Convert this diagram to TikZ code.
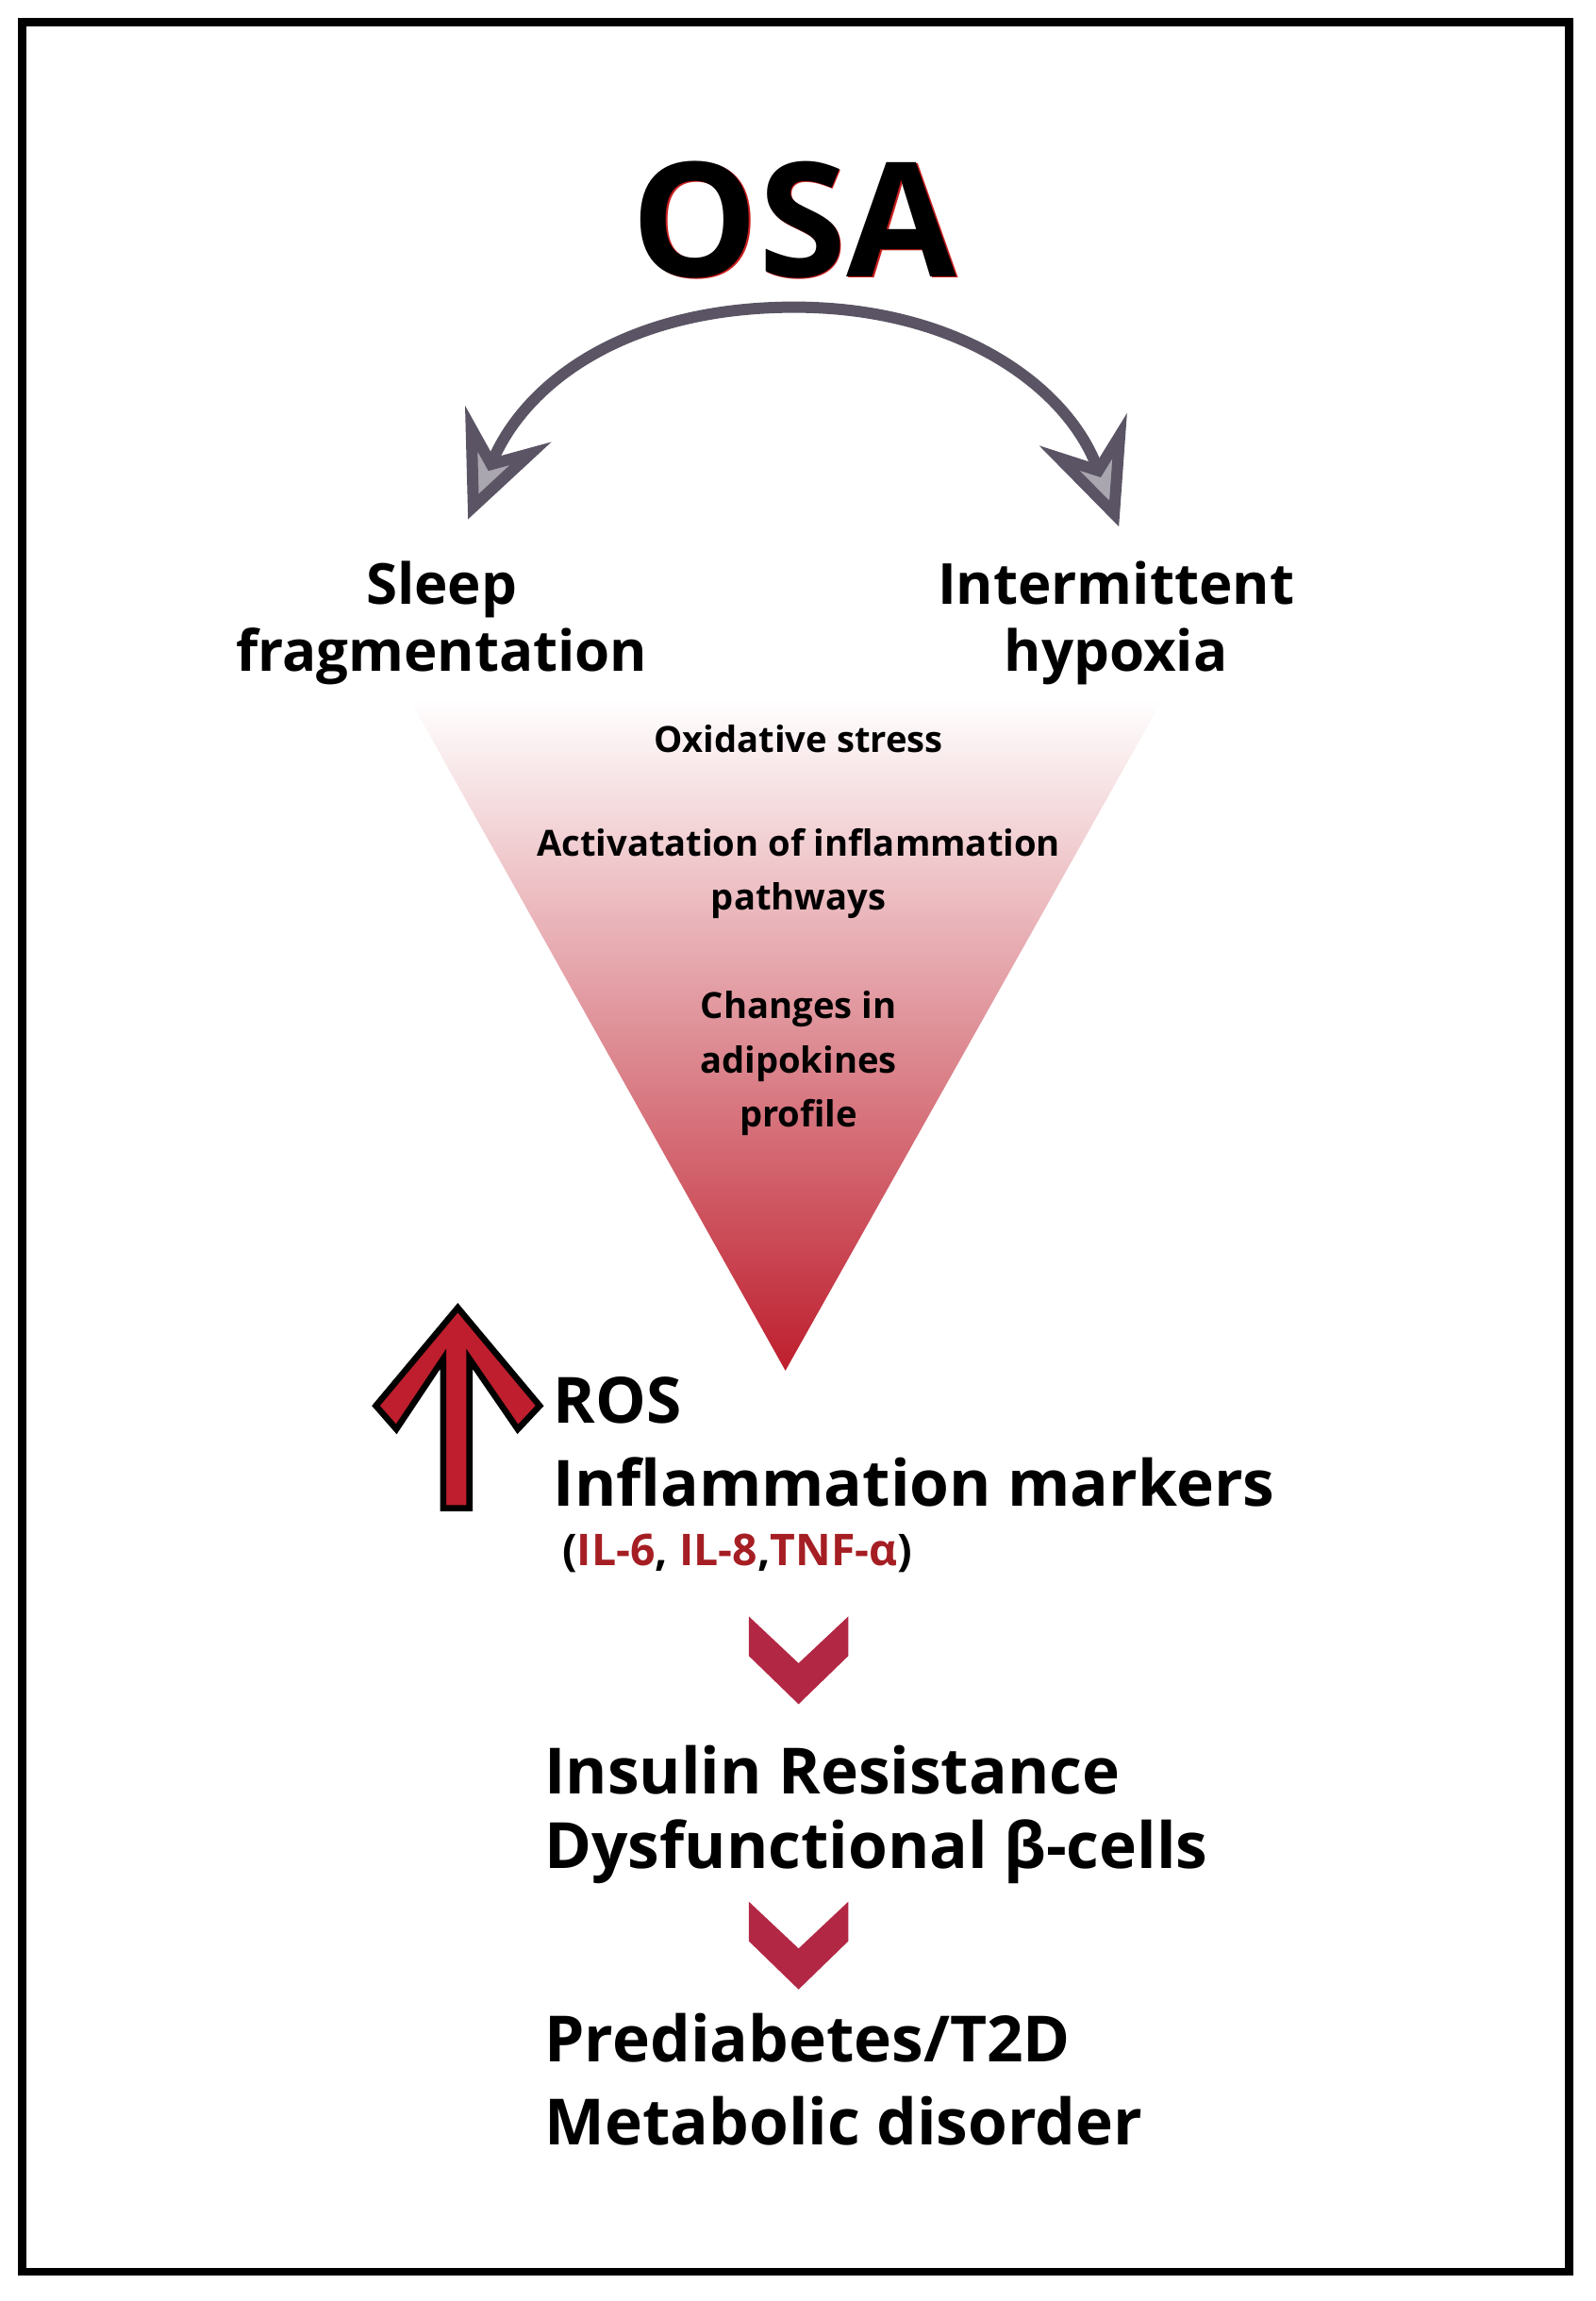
\documentclass[tikz,border=0pt]{standalone}
\usepackage{fontspec}
\setmainfont{Open Sans}
\usetikzlibrary{arrows.meta}
\definecolor{osared}{RGB}{200,30,30}
\definecolor{arcgray}{RGB}{90,84,100}
\definecolor{tipgray}{RGB}{170,166,176}
\definecolor{chevred}{RGB}{178,40,68}
\definecolor{rosred}{RGB}{190,30,45}
\definecolor{ilred}{RGB}{165,30,35}
\tikzset{
  big/.style={font=\fontsize{11}{13}\selectfont\bfseries, align=center},
  small/.style={font=\fontsize{7}{9}\selectfont\bfseries, align=center},
  outcome/.style={font=\fontsize{12.4}{15}\selectfont\bfseries, anchor=west},
  chevron/.style={fill=chevred, draw=none},
  bigtip/.style={-{Stealth[length=20pt,width=18pt,inset=7pt,fill=tipgray]}}
}
\begin{document}
\begin{tikzpicture}[x=0.01cm,y=-0.01cm]
   \useasboundingbox (0,0) rectangle (1091,1573);
   \draw[line width=1.6pt] (15,15) rectangle (1073,1553);
   % title
   \node[font=\fontsize{31}{36}\selectfont\bfseries, text=osared] at (544,151) {OSA};
   \node[font=\fontsize{31}{36}\selectfont\bfseries, text=black] (osa) at (543,150) {OSA};
   % curved double arrow
   \coordinate (top) at (543,210);
   \coordinate (ltip) at (320,355);
   \coordinate (rtip) at (765,360);
   \draw[arcgray, line width=2.2pt, bigtip] (top) .. controls (430,210) and (360,260) .. (ltip);
   \draw[arcgray, line width=2.2pt, bigtip] (top) .. controls (656,210) and (730,265) .. (rtip);
   \node[big] (sleep) at (302,426) {Sleep\\fragmentation};
   \node[big] (hypox) at (763,426) {Intermittent\\hypoxia};
   % funnel
   \shade[top color=white, bottom color=rosred] (280,478) -- (795,478) -- (537,937) -- cycle;
   \node[small] (oxi) at (546,505) {Oxidative stress};
   \node[small, font=\fontsize{7}{10.5}\selectfont\bfseries] (act) at (546,597) {Activatation of inflammation\\pathways};
   \node[small, font=\fontsize{7}{10.5}\selectfont\bfseries] (adipo) at (546,727) {Changes in\\adipokines\\profile};
   % up arrow
   \draw[fill=rosred, line width=1.2pt, line join=miter]
     (303,1031) -- (303,929) -- (271,977) -- (257,961) -- (313,894) -- (369,961)
     -- (354,977) -- (321,929) -- (321,1031) -- cycle;
   \node[font=\fontsize{12.4}{15}\selectfont\bfseries, anchor=west] (ros) at (366,957) {ROS};
   \node[font=\fontsize{12.4}{15}\selectfont\bfseries, anchor=west] (infl) at (366,1013) {Inflammation markers};
   \node[font=\fontsize{8.5}{11}\selectfont\bfseries, anchor=west] (il) at (372,1062)
     {(\textcolor{ilred}{IL-6}, \textcolor{ilred}{IL-8},\textcolor{ilred}{TNF-α})};
   % chevrons
   \fill[chevron] (512,1105) -- (546,1137) -- (580,1105) -- (580,1132) -- (546,1165) -- (512,1132) -- cycle;
   \fill[chevron] (512,1300) -- (546,1332) -- (580,1300) -- (580,1327) -- (546,1360) -- (512,1327) -- cycle;
   \node[outcome] (ins) at (360,1210) {Insulin Resistance};
   \node[outcome] (beta) at (360,1266) {Dysfunctional β-cells};
   \node[outcome] (pre) at (360,1393) {Prediabetes/T2D};
   \node[outcome] (meta) at (360,1450) {Metabolic disorder};
\end{tikzpicture}
\end{document}
